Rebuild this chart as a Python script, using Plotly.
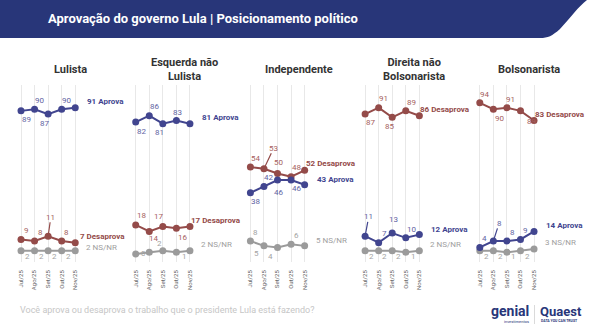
import plotly.graph_objects as go

W, H = 600, 332

# ---- data -------------------------------------------------------------
months = ["Jul/25", "Ago/25", "Set/25", "Out/25", "Nov/25"]
group_titles = ["Lulista", "Esquerda não<br>Lulista", "Independente",
                "Direita não<br>Bolsonarista", "Bolsonarista"]

lulista_aprova = [89, 90, 87, 90, 91]
lulista_desaprova = [9, 8, 11, 8, 7]
lulista_nsnr = [2, 2, 2, 2, 2]

esquerda_aprova = [82, 86, 81, 83, 81]
esquerda_desaprova = [18, 14, 17, 16, 17]
esquerda_nsnr = [0, 1, 2, 1, 2]

independente_aprova = [38, 42, 46, 46, 43]
independente_desaprova = [54, 53, 50, 48, 52]
independente_nsnr = [8, 5, 4, 6, 5]

direita_aprova = [11, 7, 13, 10, 12]
direita_desaprova = [87, 91, 85, 89, 86]
direita_nsnr = [2, 2, 2, 1, 2]

bolsonarista_aprova = [4, 8, 8, 9, 14]
bolsonarista_desaprova = [94, 90, 91, 89, 83]
bolsonarista_nsnr = [2, 2, 1, 2, 3]

series_names = {"aprova": "Aprova", "desaprova": "Desaprova", "nsnr": "NS/NR"}

panels = [
    {"aprova": lulista_aprova, "desaprova": lulista_desaprova, "nsnr": lulista_nsnr},
    {"aprova": esquerda_aprova, "desaprova": esquerda_desaprova, "nsnr": esquerda_nsnr},
    {"aprova": independente_aprova, "desaprova": independente_desaprova, "nsnr": independente_nsnr},
    {"aprova": direita_aprova, "desaprova": direita_desaprova, "nsnr": direita_nsnr},
    {"aprova": bolsonarista_aprova, "desaprova": bolsonarista_desaprova, "nsnr": bolsonarista_nsnr},
]

# ---- styling ------------------------------------------------------------
NAVY = "#283679"
LINE = {"aprova": "#41458f", "desaprova": "#944b49", "nsnr": "#9b9b9b"}
LBL = {"aprova": "#5f63a3", "desaprova": "#a5605e", "nsnr": "#a3a3a3"}
FONT = "Roboto, 'Open Sans', Arial, sans-serif"

# label offsets in px (dx, dy; dy positive = downward); "L" marks a leader line
label_offsets = [
    {"aprova": [(5.7, 9), (5.3, -8.6), (-3.3, 9.2), (5, -8.6)],
     "desaprova": [(5.7, -8.7), (6, -8.3), ("L", 2.7, -19), (5, -8.3)],
     "nsnr": [(6.5, 6), (6.5, 6), (6.5, 6), (6.5, 6)]},
    {"aprova": [(6, 9), (5, -9), (-3, 9), (0.7, -8)],
     "desaprova": [(5.3, -9), (4.3, 7.5), (-4, -10), (5.7, 9.5)],
     "nsnr": [(8, 0), None, (-3, -7), (8, 4)]},
    {"aprova": [(5, 9), (5, -9), (0.7, 12.7), (5, 9)],
     "desaprova": [(5, -8.5), ("L", 9.7, -20.4), (0.7, -11), (5.7, -9.5)],
     "nsnr": [(5, -8.7), (-7.6, 8), (-7, 9), (5, -8.6)]},
    {"aprova": [("L", 3.6, -19.3), (6, -9.4), (1, -13.7), (6, -8.5)],
     "desaprova": [(5.3, 8.6), (5, -8.7), (-3, 8.7), (5.3, -8.6)],
     "nsnr": [(6, 6), (6, 6), (6.7, 6), (7.6, 4.4)]},
    {"aprova": [(5, -9), ("L", 5.7, -17.7), (5.3, -8.7), (5.4, -9.4)],
     "desaprova": [(4.3, -8.8), (6, 9), (4, -8.4), (11.4, 10.8)],
     "nsnr": [(6.7, 6), (6.7, 6), (6.3, 4.4), (7, 6)]},
]
end_offsets = [
    {"aprova": (10, -6), "desaprova": (2.4, -6), "nsnr": (9, -3.4)},
    {"aprova": (10, -6), "desaprova": (-1, -5.6), "nsnr": (9, -5.7)},
    {"aprova": (10.7, -5.7), "desaprova": (-1, -6.7), "nsnr": (9, -5.2)},
    {"aprova": (10, -5.6), "desaprova": (-1.6, -5.7), "nsnr": (9, -6.4)},
    {"aprova": (9.6, -5.7), "desaprova": (-1.4, -6.2), "nsnr": (9, -6.3)},
]

# ---- geometry (px) ------------------------------------------------------
STEP = 13.56          # px between months
PANEL_W = 114.7       # px between panels
FIRST_X = 21.0        # px of the first month in the first panel
PLOT_TOP, PLOT_BOT = 85, 262
Y_RANGE = [-5.04, 105.1]
X_RANGE = [-1, -1 + PANEL_W / STEP]


def px(x):
    return x / W


def py(y):
    return 1 - y / H


fig = go.Figure()
annotations = []

for i, panel in enumerate(panels):
    n = i + 1
    xa = "x" if n == 1 else f"x{n}"
    ya = "y" if n == 1 else f"y{n}"
    left = FIRST_X + PANEL_W * i - STEP
    fig.layout[f"xaxis{'' if n == 1 else n}"] = dict(
        domain=[px(left), px(left + PANEL_W)], range=X_RANGE, anchor=ya,
        tickvals=list(range(len(months))), ticktext=months, tickangle=-90,
        tickfont=dict(size=6, color="#666666", family=FONT),
        showgrid=True, gridcolor="#e8e8e8", gridwidth=1,
        zeroline=False, showline=False, ticks="", ticklabelstandoff=6,
        fixedrange=True)
    fig.layout[f"yaxis{'' if n == 1 else n}"] = dict(
        domain=[py(PLOT_BOT), py(PLOT_TOP)], range=Y_RANGE, anchor=xa,
        showgrid=False, zeroline=False, showticklabels=False, fixedrange=True)

    for key in ["nsnr", "desaprova", "aprova"]:
        vals = panel[key]
        fig.add_trace(go.Scatter(
            x=list(range(len(months))), y=vals, xaxis=xa, yaxis=ya,
            mode="lines+markers", line=dict(color=LINE[key], width=2),
            marker=dict(color=LINE[key], size=7), showlegend=False,
            hoverinfo="skip", cliponaxis=False))

        # value labels for the first four months
        for j, off in enumerate(label_offsets[i][key]):
            if off is None:
                continue
            if off[0] == "L":
                _, dx, dy = off
                annotations.append(dict(
                    x=j, y=vals[j], xref=xa, yref=ya, text=str(vals[j]),
                    showarrow=True, arrowhead=0, arrowwidth=1.2,
                    arrowcolor=LINE[key], ax=dx, ay=dy, standoff=0,
                    font=dict(size=8, color=LBL[key], family=FONT),
                    borderpad=0))
            else:
                dx, dy = off
                annotations.append(dict(
                    x=j, y=vals[j], xref=xa, yref=ya, text=str(vals[j]),
                    showarrow=False, xshift=dx, yshift=-dy,
                    font=dict(size=8, color=LBL[key], family=FONT)))

        # series label after the last month
        dx, dy = end_offsets[i][key]
        last = vals[-1]
        txt = f"{last} {series_names[key]}"
        if key != "nsnr":
            txt = f"<b>{txt}</b>"
        annotations.append(dict(
            x=len(months) - 1, y=last, xref=xa, yref=ya, text=txt,
            showarrow=False, xanchor="left", xshift=dx, yshift=-dy,
            font=dict(size=8, color=LINE[key] if key != "nsnr" else "#a0a0a0",
                      family=FONT)))

    # panel title
    annotations.append(dict(
        x=px(70 + PANEL_W * i), y=py(69), xref="paper", yref="paper",
        text=f"<b>{group_titles[i]}</b>", showarrow=False,
        font=dict(size=11, color="#333333", family=FONT),
        xanchor="center", yanchor="middle"))

# header band with curved right edge
pts = "M {},{} L {},{} C {},{} {},{} {},{} C {},{} {},{} {},{} L {},{} Z"
header = [(0, 0), (587, 0), (578, 7), (572, 16), (560, 29),
          (552, 36), (548, 38), (540, 38), (0, 38)]
hp = [(px(x), py(y)) for x, y in header]
path = "M {0[0]},{0[1]} L {1[0]},{1[1]} C {2[0]},{2[1]} {3[0]},{3[1]} {4[0]},{4[1]} " \
       "C {5[0]},{5[1]} {6[0]},{6[1]} {7[0]},{7[1]} L {8[0]},{8[1]} Z".format(*hp)
fig.add_shape(type="path", path=path, xref="paper", yref="paper",
              fillcolor=NAVY, line=dict(width=0), layer="below")

annotations.append(dict(
    x=px(46), y=py(18.5), xref="paper", yref="paper",
    text="<b>Aprovação do governo Lula | Posicionamento político</b>",
    showarrow=False, xanchor="left", yanchor="middle",
    font=dict(size=13, color="white", family=FONT)))

annotations.append(dict(
    x=px(18), y=py(310), xref="paper", yref="paper",
    text="Você aprova ou desaprova o trabalho que o presidente Lula está fazendo?",
    showarrow=False, xanchor="left", yanchor="middle",
    font=dict(size=9, color="#c6c6c6", family=FONT)))

# brand marks
annotations += [
    dict(x=px(531), y=py(311), xref="paper", yref="paper", text="<b>genial</b>",
         showarrow=False, xanchor="right", yanchor="middle",
         font=dict(size=14, color=NAVY, family=FONT)),
    dict(x=px(531), y=py(321), xref="paper", yref="paper", text="investimentos",
         showarrow=False, xanchor="right", yanchor="middle",
         font=dict(size=4, color=NAVY, family=FONT)),
    dict(x=px(538), y=py(311), xref="paper", yref="paper", text="<b>Quaest</b>",
         showarrow=False, xanchor="left", yanchor="middle",
         font=dict(size=13, color=NAVY, family=FONT)),
    dict(x=px(539), y=py(321), xref="paper", yref="paper", text="<b>DATA YOU CAN TRUST</b>",
         showarrow=False, xanchor="left", yanchor="middle",
         font=dict(size=3.5, color=NAVY, family=FONT)),
]
fig.add_shape(type="line", xref="paper", yref="paper",
              x0=px(534.5), x1=px(534.5), y0=py(305), y1=py(324),
              line=dict(color="#d0d0d0", width=0.8))

fig.update_layout(
    width=W, height=H, margin=dict(l=0, r=0, t=0, b=0),
    paper_bgcolor="white", plot_bgcolor="white",
    annotations=annotations, font=dict(family=FONT))

fig.write_html("out.html", config={"displayModeBar": False})
